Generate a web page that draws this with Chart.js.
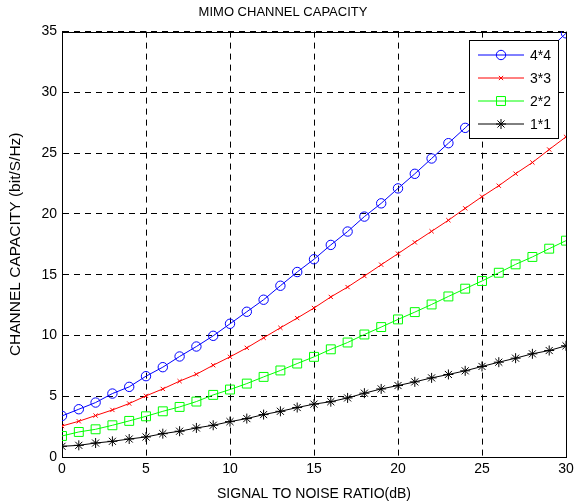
<!DOCTYPE html>
<html>
<head>
<meta charset="utf-8">
<script src="https://cdn.jsdelivr.net/npm/chart.js@4/dist/chart.umd.min.js"></script>
<style>
  html, body { margin: 0; padding: 0; background: #fff; }
  #capacityChart { display: block; }
</style>
</head>
<body>
<canvas id="capacityChart" width="578" height="503"></canvas>
<script>
// SNR in dB, 0..30 step 1
var snrValues = [0, 1, 2, 3, 4, 5, 6, 7, 8, 9, 10, 11, 12, 13, 14, 15, 16, 17, 18, 19, 20, 21, 22, 23, 24, 25, 26, 27, 28, 29, 30];

var seriesLabels = ["4*4", "3*3", "2*2", "1*1"];

var cap4x4 = [3.38, 3.93, 4.48, 5.22, 5.77, 6.65, 7.39, 8.27, 9.09, 9.97, 10.96, 11.95, 12.94, 14.09, 15.22, 16.27,
              17.45, 18.55, 19.78, 20.87, 22.1, 23.3, 24.56, 25.82, 27.08, 28.38, 29.67, 30.97, 32.27, 33.56, 34.86];
var cap3x3 = [2.55, 2.94, 3.41, 3.87, 4.4, 5.03, 5.6, 6.24, 6.81, 7.55, 8.24, 8.98, 9.81, 10.63, 11.43, 12.26,
              13.17, 13.98, 14.89, 15.82, 16.73, 17.66, 18.57, 19.48, 20.46, 21.42, 22.32, 23.31, 24.23, 25.3, 26.34];
var cap2x2 = [1.73, 2.06, 2.28, 2.61, 2.97, 3.35, 3.76, 4.12, 4.56, 5.11, 5.55, 6.04, 6.59, 7.12, 7.69, 8.24,
              8.86, 9.42, 10.08, 10.69, 11.32, 11.92, 12.55, 13.21, 13.85, 14.48, 15.16, 15.85, 16.46, 17.14, 17.8];
var cap1x1 = [0.88, 0.96, 1.15, 1.29, 1.48, 1.65, 1.92, 2.12, 2.39, 2.61, 2.91, 3.16, 3.49, 3.76, 4.07, 4.35,
              4.55, 4.86, 5.25, 5.6, 5.88, 6.18, 6.51, 6.79, 7.09, 7.45, 7.8, 8.13, 8.49, 8.76, 9.15];

var xTicks = [0, 5, 10, 15, 20, 25, 30];
var yTicks = [0, 5, 10, 15, 20, 25, 30, 35];

function toPoints(values) {
    return snrValues.map(function (x, i) { return { x: x, y: values[i] }; });
}

var fontFamily = "'Liberation Sans', Arial, sans-serif";

// box around the plot area, matlab style
var frameBox = {
    id: 'frameBox',
    beforeDatasetsDraw: function (chart) {
        var ctx = chart.ctx, a = chart.chartArea;
        ctx.save();
        ctx.strokeStyle = '#000';
        ctx.lineWidth = 1;
        ctx.setLineDash([]);
        ctx.strokeRect(Math.round(a.left) + 0.5, Math.round(a.top) + 0.5,
                       Math.round(a.right - a.left), Math.round(a.bottom - a.top));
        ctx.restore();
    }
};

// legend drawn inside the top right corner
var insideLegend = {
    id: 'insideLegend',
    afterDraw: function (chart) {
        var ctx = chart.ctx;
        var left = 469.5, top = 40.5, w = 89, h = 98;
        ctx.save();
        ctx.fillStyle = '#fff';
        ctx.fillRect(left, top, w, h);
        ctx.strokeStyle = '#000';
        ctx.lineWidth = 1;
        ctx.strokeRect(left, top, w, h);
        ctx.font = '14px ' + fontFamily;
        ctx.textBaseline = 'middle';
        chart.data.datasets.forEach(function (ds, i) {
            var y = 55 + i * 23;
            ctx.strokeStyle = ds.borderColor;
            ctx.lineWidth = 1;
            ctx.beginPath();
            ctx.moveTo(478, y);
            ctx.lineTo(524, y);
            ctx.stroke();
            ctx.fillStyle = 'rgba(0,0,0,0)';
            Chart.helpers.drawPoint(ctx, {
                pointStyle: ds.pointStyle,
                radius: ds.pointRadius,
                borderWidth: 1
            }, 501, y);
            ctx.fillStyle = '#000';
            ctx.fillText(ds.label, 530, y + 1);
        });
        ctx.restore();
    }
};

function makeDataset(label, values, color, style, radius) {
    return {
        label: label,
        data: toPoints(values),
        borderColor: color,
        backgroundColor: 'rgba(0,0,0,0)',
        pointBorderColor: color,
        pointBackgroundColor: 'rgba(0,0,0,0)',
        borderWidth: 1,
        pointBorderWidth: 1,
        pointStyle: style,
        pointRadius: radius,
        tension: 0
    };
}

var ctx = document.getElementById('capacityChart').getContext('2d');
new Chart(ctx, {
    type: 'line',
    data: {
        datasets: [
            makeDataset(seriesLabels[0], cap4x4, '#0000ff', 'circle', 4.7),
            makeDataset(seriesLabels[1], cap3x3, '#ff0000', 'crossRot', 3),
            makeDataset(seriesLabels[2], cap2x2, '#00ff00', 'rect', 6.3),
            makeDataset(seriesLabels[3], cap1x1, '#000000', 'star', 5)
        ]
    },
    options: {
        responsive: false,
        animation: false,
        layout: { padding: { left: 0, right: 12, top: 0, bottom: 0 } },
        plugins: {
            legend: { display: false },
            tooltip: { enabled: false },
            title: {
                display: true,
                text: 'MIMO CHANNEL CAPACITY',
                color: '#000',
                font: { family: fontFamily, size: 13, weight: 'normal' },
                padding: { top: 5, bottom: 11 }
            }
        },
        scales: {
            x: {
                type: 'linear',
                min: 0,
                max: 30,
                afterBuildTicks: function (scale) {
                    scale.ticks = xTicks.map(function (v) { return { value: v }; });
                },
                afterFit: function (scale) { scale.height = 46; },
                grid: { color: '#000', lineWidth: 1, drawTicks: false },
                border: { display: true, color: '#000', dash: [6, 5] },
                ticks: { color: '#000', padding: 4, maxRotation: 0, font: { family: fontFamily, size: 14 } },
                title: {
                    display: true,
                    text: 'SIGNAL TO NOISE RATIO(dB)',
                    color: '#000',
                    padding: { top: 2, bottom: 0 },
                    font: { family: fontFamily, size: 14 }
                }
            },
            y: {
                min: 0,
                max: 35,
                afterBuildTicks: function (scale) {
                    scale.ticks = yTicks.map(function (v) { return { value: v }; });
                },
                afterFit: function (scale) { scale.width = 62; },
                grid: { color: '#000', lineWidth: 1, drawTicks: false },
                border: { display: true, color: '#000', dash: [6, 5] },
                ticks: { color: '#000', padding: 5, font: { family: fontFamily, size: 14 } },
                title: {
                    display: true,
                    text: 'CHANNEL CAPACITY (bit/S/Hz)',
                    color: '#000',
                    padding: { top: 6, bottom: 2 },
                    font: { family: fontFamily, size: 15.5 }
                }
            }
        }
    },
    plugins: [frameBox, insideLegend]
});
</script>
</body>
</html>
